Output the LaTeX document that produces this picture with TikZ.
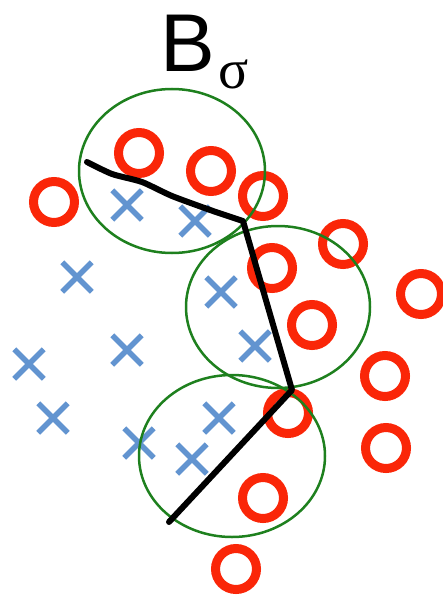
\documentclass[tikz,border=0pt]{standalone}
\usepackage{fontspec}
\setmainfont{Liberation Sans}
\newfontfamily\serifgr{Liberation Serif}
\usetikzlibrary{shapes.misc}
\definecolor{ringred}{RGB}{250,38,8}
\definecolor{crossblue}{RGB}{98,148,208}
\definecolor{ballgreen}{RGB}{30,128,30}
\tikzset{
  ring/.style={circle, draw=ringred, line width=9pt, minimum size=41pt, inner sep=0pt},
  xmark/.style={cross out, draw=crossblue, line width=5.5pt, minimum size=24pt, inner sep=0pt},
  ball/.style={draw=ballgreen, line width=2.5pt},
  boundary/.style={draw=black, line width=6pt, line join=round, line cap=round}
}
\begin{document}
\begin{tikzpicture}[x=1pt,y=-1pt]
\path[use as bounding box] (0,0) rectangle (443,599);
% title
\node[anchor=base west, inner sep=0pt, font=\fontsize{82}{90}\selectfont] (tB) at (160,72) {B};
\node[anchor=base west, inner sep=0pt, font=\serifgr\fontsize{56}{60}\selectfont] (tsig) at (218,89) {σ};
% red rings
\foreach \n/\x/\y in {r1/139/153, r2/211/171, r3/263/196, r4/54/202, r5/343/244, r6/272/268,
  r7/421/294, r8/312/325, r9/385/376, r10/288/413, r11/386/448, r12/263/498, r13/236/569}
  \node[ring] (\n) at (\x,\y) {};
% blue crosses
\foreach \n/\x/\y in {c1/127/205, c2/195/221, c3/77/277, c4/221/292, c5/127/350, c6/255/346,
  c7/29/364, c8/53/418, c9/219/418, c10/139/443, c11/192/459}
  \node[xmark] (\n) at (\x,\y) {};
% green balls
\draw[ball] (172,171) ellipse [x radius=93, y radius=82];
\draw[ball] (278,307) ellipse [x radius=92, y radius=81];
\draw[ball] (232,456) ellipse [x radius=93, y radius=81];
% decision boundary
\coordinate (p0) at (87,162);
\coordinate (p1) at (112,174);
\coordinate (p2) at (142,182);
\coordinate (p3) at (172,196);
\coordinate (p4) at (213,211);
\coordinate (p5) at (243,221);
\coordinate (p6) at (292,390);
\coordinate (p7) at (169,522);
\draw[boundary] plot[smooth, tension=0.4] coordinates {(p0) (p1) (p2) (p3) (p4) (p5)} -- (p6) -- (p7);
\end{tikzpicture}
\end{document}
